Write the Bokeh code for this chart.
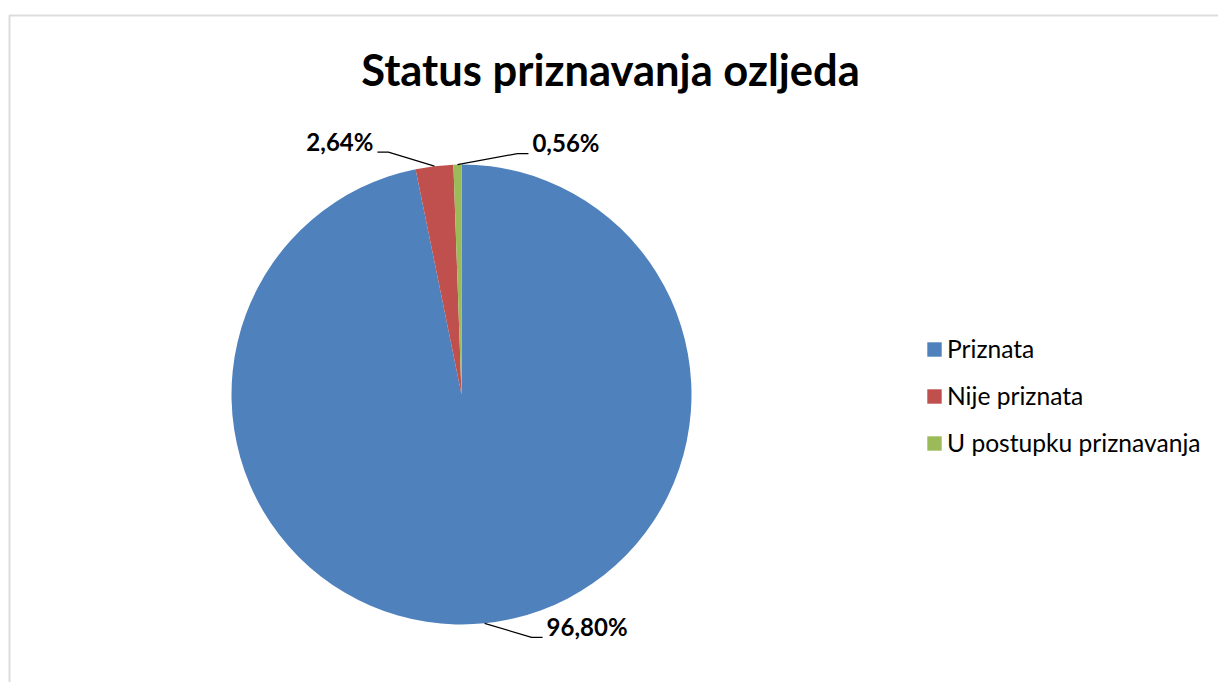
import math
from bokeh.plotting import figure
from bokeh.models import ColumnDataSource, Range1d, Legend, LegendItem, Label, BoxAnnotation
from bokeh.core.properties import value
from bokeh.embed import file_html
from bokeh.resources import INLINE

# ---- data ----
categories = ["Priznata", "Nije priznata", "U postupku priznavanja"]
shares = [96.80, 2.64, 0.56]
colors = ["#4F81BD", "#C0504D", "#9BBB59"]
title_text = "Status priznavanja ozljeda"

# ---- layout constants ----
W, H = 1218, 682
CX, CY = 461, 288        # pie centre (px from left / bottom of canvas)
R = 230
FONT = "Lato"
# leader elbow offset (dx, dy) from arc point, and side of the text
label_offsets = [(47, -14, "right"), (-46, 14, "left"), (60, 11, "right")]

total = sum(shares)
starts, ends, mids = [], [], []
a = math.pi / 2
for s in shares:
    sweep = 2 * math.pi * s / total
    starts.append(a - sweep)
    ends.append(a)
    mids.append(a - sweep / 2)
    a -= sweep

src = ColumnDataSource(dict(cat=categories, start=starts, end=ends, color=colors))

p = figure(width=W, height=H, x_range=Range1d(-CX, W - CX), y_range=Range1d(-CY, H - CY),
           output_backend="svg", toolbar_location=None, min_border=0,
           x_axis_location=None, y_axis_location=None)
p.grid.visible = False
p.outline_line_color = None
p.background_fill_color = "white"

r = p.wedge(x=0, y=0, radius=R, start_angle="start", end_angle="end",
            fill_color="color", line_color=None, source=src)

# data labels with leader lines
lx, ly, txt, tx, ty, align = [], [], [], [], [], []
for i, m in enumerate(mids):
    ax, ay = R * math.cos(m), R * math.sin(m)
    dx, dy, side = label_offsets[i]
    ex, ey = ax + dx, ay + dy
    sgn = 1 if side == "right" else -1
    hx = ex + sgn * 11
    lx.append([ax, ex, hx]); ly.append([ay, ey, ey])
    tx.append(hx + sgn * 4); ty.append(ey + 11)
    txt.append(f"{shares[i]:.2f}".replace(".", ",") + "%")
    align.append("left" if side == "right" else "right")

p.multi_line(xs=lx, ys=ly, line_color="black", line_width=1.2)
p.text(x=tx, y=ty, text=txt, text_align=align, text_baseline="middle",
       text_font=value(FONT), text_font_style="bold", text_font_size="24px", text_color="black")

# chart-area border (only left/top visible, as in the original crop)
p.add_layout(BoxAnnotation(left=-CX + 9, right=W - CX + 20, bottom=-CY - 20, top=H - CY - 15,
                           fill_alpha=0, line_color="#8a8a8a", line_width=2))

# title
p.add_layout(Label(x=610, y=614, x_units="screen", y_units="screen", text=title_text,
                   text_align="center", text_baseline="alphabetic", text_font=FONT,
                   text_font_style="bold", text_font_size="43.5px", text_color="black"))

legend = Legend(items=[LegendItem(label=c, renderers=[r], index=i) for i, c in enumerate(categories)],
                location=(925, 225), orientation="vertical",
                glyph_width=18, glyph_height=18, label_standoff=4,
                label_text_font=FONT, label_text_font_size="24.6px", label_text_color="black",
                spacing=18, padding=0, margin=0,
                border_line_color=None, background_fill_alpha=0)
p.add_layout(legend)

open("out.html", "w").write(file_html(p, INLINE))
